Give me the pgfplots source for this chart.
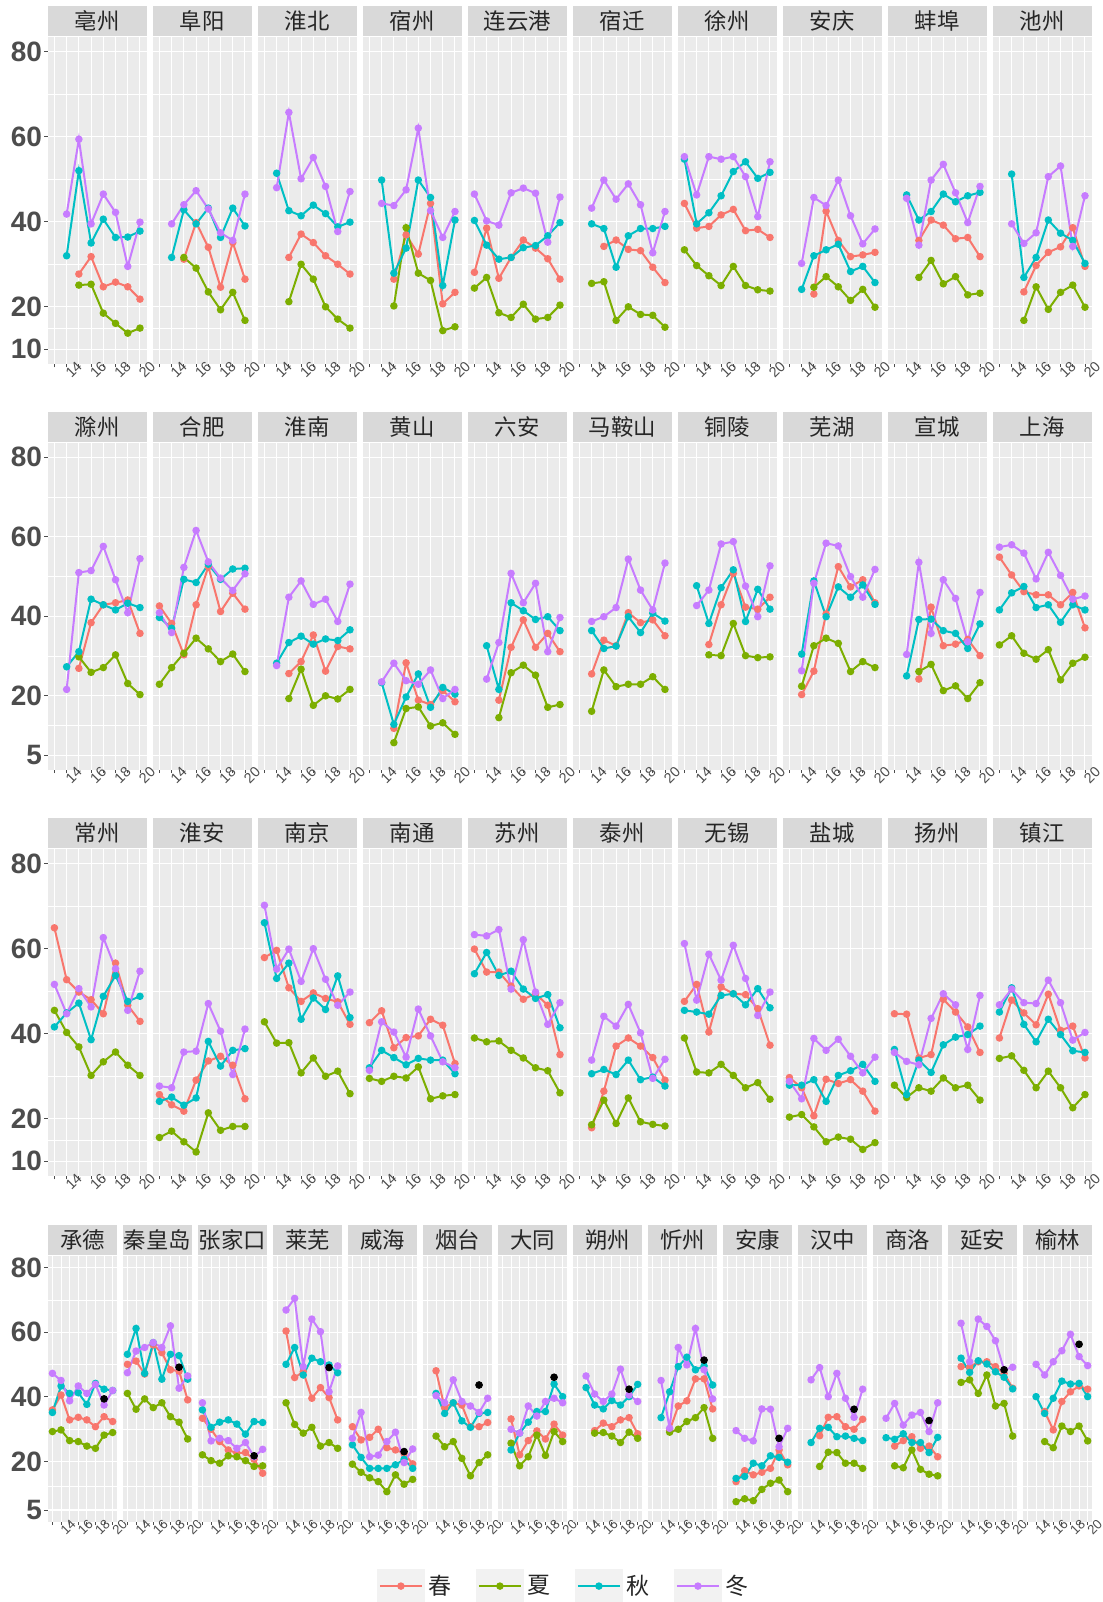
\documentclass[border=0pt]{standalone}
\usepackage{fontspec}
\setmainfont{Liberation Sans}
\newfontfamily\cjk{Noto Sans CJK SC}
\usepackage{pgfplots}
\pgfplotsset{compat=1.18}
\definecolor{cspr}{HTML}{F8766D}
\definecolor{csum}{HTML}{7CAE00}
\definecolor{caut}{HTML}{00BFC4}
\definecolor{cwin}{HTML}{C77CFF}
\definecolor{panelbg}{HTML}{EBEBEB}
\definecolor{stripbg}{HTML}{D9D9D9}
\definecolor{tickgray}{HTML}{4D4D4D}
\definecolor{keybg}{HTML}{F2F2F2}

\pgfplotsset{
  facet/.style={
    scale only axis,
    axis background/.style={fill=panelbg},
    axis line style={draw=none},
    xmin=12.45, xmax=20.55,
    xtick={13,...,20}, xticklabels={,14,,16,,18,,20},
    xtick pos=bottom, ytick pos=left,
    xticklabel style={rotate=45, anchor=center, font=\fontsize{7.2}{7.2}\selectfont,
      text=tickgray, xshift=1.7pt, yshift=-3.3pt},
    xmajorgrids, ymajorgrids, yminorgrids,
    major x grid style={white, line width=0.5pt},
    major y grid style={white, line width=0.6pt},
    minor y grid style={white, line width=0.3pt},
    tick align=outside, major tick length=1.7pt, minor tick length=0pt,
    xtick style={draw=tickgray, line width=0.4pt},
    ytick style={draw=none},
    every axis title/.style={at={(0.5,1)}, anchor=south, yshift=0.3pt, fill=stripbg,
      inner sep=0pt, minimum height=15pt, font=\cjk\fontsize{11.2}{11.2}\selectfont,
      text=black!85},
    /pgf/number format/assume math mode=true,
  },
  rowA/.style={facet, width=49.5pt, height=163.65pt, ymin=6.55, ymax=83.5,
    ytick={10,20,40,60,80}, minor ytick={15,30,50,70}, title style={minimum width=49.5pt}},
  rowB/.style={facet, width=49.5pt, height=163.35pt, ymin=1.4, ymax=83.6,
    ytick={5,20,40,60,80}, minor ytick={12.5,30,50,70}, title style={minimum width=49.5pt}},
  rowD/.style={facet, width=34.85pt, height=133pt, ymin=1.4, ymax=83.7,
    ytick={5,20,40,60,80}, minor ytick={12.5,30,50,70}, title style={minimum width=34.85pt},
    xticklabel style={font=\fontsize{6.6}{6.6}\selectfont}},
  noy/.style={yticklabels={}},
  firsty/.style={ytick style={draw=tickgray, line width=0.5pt},
    yticklabel style={font=\bfseries\fontsize{14}{14}\selectfont, text=tickgray, inner sep=1pt}},
  spr/.style={color=cspr, mark=*, line width=1pt, mark size=1.35pt},
  sum/.style={color=csum, mark=*, line width=1pt, mark size=1.35pt},
  aut/.style={color=caut, mark=*, line width=1pt, mark size=1.35pt},
  win/.style={color=cwin, mark=*, line width=1pt, mark size=1.35pt},
  blk/.style={only marks, mark=*, black, mark size=1.7pt, forget plot},
}

\newcommand{\Sp}[1]{\addplot[spr] coordinates {#1};}
\newcommand{\Su}[1]{\addplot[sum] coordinates {#1};}
\newcommand{\Au}[1]{\addplot[aut] coordinates {#1};}
\newcommand{\Wi}[1]{\addplot[win] coordinates {#1};}
\newcommand{\Bk}[1]{\addplot[blk] coordinates {#1};}
% #1 left (pt), #2 bottom (pt), #3 styles, #4 title, #5 plots
\newcommand{\pnl}[5]{%
  \begin{axis}[at={(#1pt,#2pt)}, anchor=south west, #3, title={#4}]
  #5
  \end{axis}}

\begin{document}
\begin{tikzpicture}
\fill[white] (0,0) rectangle (551.5pt,-801pt);
\useasboundingbox (0,0) rectangle (551.5pt,-801pt);

% ---------------- row 1 ----------------
\pnl{23.85}{-182}{rowA,firsty}{亳州}{
\Sp{(15,27.7)(16,31.8)(17,24.7)(18,25.8)(19,24.7)(20,21.8)}
\Su{(15,25.1)(16,25.3)(17,18.5)(18,16.1)(19,13.8)(20,15.0)}
\Au{(14,32.0)(15,52.0)(16,35.0)(17,40.6)(18,36.3)(19,36.4)(20,37.8)}
\Wi{(14,41.8)(15,59.4)(16,39.5)(17,46.5)(18,42.2)(19,29.5)(20,39.9)}}
\pnl{76.35}{-182}{rowA,noy}{阜阳}{
\Sp{(15,31.2)(16,39.8)(17,34.0)(18,24.6)(19,35.1)(20,26.5)}
\Su{(15,31.6)(16,29.1)(17,23.5)(18,19.3)(19,23.4)(20,16.8)}
\Au{(14,31.6)(15,42.8)(16,39.5)(17,43.2)(18,36.3)(19,43.2)(20,39.0)}
\Wi{(14,39.5)(15,44.0)(16,47.3)(17,43.0)(18,37.4)(19,35.6)(20,46.5)}}
\pnl{128.85}{-182}{rowA,noy}{淮北}{
\Sp{(15,31.6)(16,37.1)(17,35.1)(18,32.0)(19,30.0)(20,27.7)}
\Su{(15,21.2)(16,30.0)(17,26.5)(18,20.0)(19,17.1)(20,15.0)}
\Au{(14,51.4)(15,42.6)(16,41.4)(17,43.9)(18,41.9)(19,38.8)(20,39.9)}
\Wi{(14,48.0)(15,65.7)(16,50.1)(17,55.1)(18,48.3)(19,37.7)(20,47.1)}}
\pnl{181.35}{-182}{rowA,noy}{宿州}{
\Sp{(15,26.5)(16,36.9)(17,32.4)(18,44.3)(19,20.7)(20,23.4)}
\Su{(15,20.2)(16,38.6)(17,27.9)(18,26.2)(19,14.4)(20,15.3)}
\Au{(14,49.8)(15,27.9)(16,33.8)(17,49.8)(18,45.7)(19,25.0)(20,40.4)}
\Wi{(14,44.3)(15,43.8)(16,47.5)(17,62.0)(18,42.6)(19,36.3)(20,42.4)}}
\pnl{233.85}{-182}{rowA,noy}{连云港}{
\Sp{(13,28.1)(14,38.5)(15,26.7)(16,31.6)(17,35.7)(18,33.8)(19,31.3)(20,26.5)}
\Su{(13,24.4)(14,26.9)(15,18.6)(16,17.5)(17,20.6)(18,17.1)(19,17.5)(20,20.4)}
\Au{(13,40.3)(14,34.5)(15,31.2)(16,31.6)(17,33.9)(18,34.4)(19,36.7)(20,39.8)}
\Wi{(13,46.5)(14,40.2)(15,39.2)(16,46.8)(17,47.9)(18,46.7)(19,35.2)(20,45.8)}}
\pnl{286.35}{-182}{rowA,noy}{宿迁}{
\Sp{(15,34.2)(16,35.7)(17,33.5)(18,33.2)(19,29.3)(20,25.7)}
\Su{(14,25.5)(15,25.9)(16,16.8)(17,20.0)(18,18.2)(19,18.0)(20,15.2)}
\Au{(14,39.5)(15,38.4)(16,29.3)(17,36.7)(18,38.4)(19,38.4)(20,38.9)}
\Wi{(14,43.2)(15,49.8)(16,45.3)(17,48.9)(18,44.0)(19,32.7)(20,42.4)}}
\pnl{338.85}{-182}{rowA,noy}{徐州}{
\Sp{(13,44.3)(14,38.5)(15,38.9)(16,41.6)(17,42.9)(18,37.9)(19,38.2)(20,36.3)}
\Su{(13,33.4)(14,29.7)(15,27.3)(16,25.0)(17,29.5)(18,25.0)(19,24.0)(20,23.7)}
\Au{(13,54.7)(14,39.5)(15,42.1)(16,46.1)(17,51.8)(18,54.1)(19,50.2)(20,51.6)}
\Wi{(13,55.3)(14,46.3)(15,55.3)(16,54.7)(17,55.3)(18,50.6)(19,41.2)(20,54.1)}}
\pnl{391.35}{-182}{rowA,noy}{安庆}{
\Sp{(15,23.0)(16,42.5)(17,35.6)(18,31.8)(19,32.2)(20,32.8)}
\Su{(15,24.6)(16,27.1)(17,24.7)(18,21.5)(19,24.1)(20,19.9)}
\Au{(14,24.1)(15,32.0)(16,33.4)(17,34.7)(18,28.3)(19,29.5)(20,25.7)}
\Wi{(14,30.2)(15,45.7)(16,43.8)(17,49.8)(18,41.4)(19,34.8)(20,38.3)}}
\pnl{443.85}{-182}{rowA,noy}{蚌埠}{
\Sp{(15,35.6)(16,40.4)(17,39.2)(18,36.0)(19,36.3)(20,31.8)}
\Su{(15,26.9)(16,30.9)(17,25.4)(18,27.1)(19,22.8)(20,23.2)}
\Au{(14,46.3)(15,40.4)(16,42.4)(17,46.5)(18,44.7)(19,46.1)(20,46.9)}
\Wi{(14,45.5)(15,34.5)(16,49.8)(17,53.5)(18,46.8)(19,39.8)(20,48.3)}}
\pnl{496.35}{-182}{rowA,noy}{池州}{
\Sp{(15,23.5)(16,29.7)(17,32.8)(18,34.1)(19,38.6)(20,29.5)}
\Su{(15,16.8)(16,24.7)(17,19.4)(18,23.4)(19,25.1)(20,19.9)}
\Au{(14,51.2)(15,26.9)(16,31.6)(17,40.4)(18,37.3)(19,35.6)(20,30.2)}
\Wi{(14,39.5)(15,34.9)(16,37.4)(17,50.6)(18,53.1)(19,34.2)(20,46.1)}}

% ---------------- row 2 ----------------
\pnl{23.85}{-384.85}{rowB,firsty}{滁州}{
\Sp{(15,26.9)(16,38.4)(17,42.9)(18,43.4)(19,44.1)(20,35.7)}
\Su{(15,29.8)(16,25.9)(17,27.1)(18,30.3)(19,23.1)(20,20.3)}
\Au{(14,27.3)(15,31.1)(16,44.3)(17,42.9)(18,41.6)(19,43.3)(20,42.2)}
\Wi{(14,21.6)(15,51.0)(16,51.5)(17,57.6)(18,49.2)(19,40.9)(20,54.5)}}
\pnl{76.35}{-384.85}{rowB,noy}{合肥}{
\Sp{(13,42.6)(14,38.2)(15,30.3)(16,42.9)(17,52.5)(18,41.2)(19,45.8)(20,41.8)}
\Su{(13,22.9)(14,27.1)(15,30.7)(16,34.5)(17,31.8)(18,28.6)(19,30.5)(20,26.1)}
\Au{(13,39.7)(14,37.0)(15,49.3)(16,48.5)(17,53.1)(18,49.3)(19,51.9)(20,52.1)}
\Wi{(13,40.9)(14,35.9)(15,52.3)(16,61.6)(17,53.7)(18,49.6)(19,46.5)(20,50.7)}}
\pnl{128.85}{-384.85}{rowB,noy}{淮南}{
\Sp{(15,25.6)(16,28.6)(17,35.3)(18,26.2)(19,32.4)(20,31.8)}
\Su{(15,19.3)(16,26.7)(17,17.6)(18,20.0)(19,19.2)(20,21.6)}
\Au{(14,28.2)(15,33.4)(16,35.0)(17,33.0)(18,34.3)(19,33.9)(20,36.6)}
\Wi{(14,27.6)(15,44.8)(16,48.9)(17,43.0)(18,44.3)(19,38.7)(20,48.1)}}
\pnl{181.35}{-384.85}{rowB,noy}{黄山}{
\Sp{(15,11.8)(16,28.3)(17,18.9)(18,17.8)(19,21.3)(20,18.5)}
\Su{(15,8.2)(16,16.8)(17,17.2)(18,12.4)(19,13.2)(20,10.3)}
\Au{(14,23.3)(15,12.8)(16,19.7)(17,25.5)(18,17.1)(19,22.1)(20,20.4)}
\Wi{(14,23.5)(15,28.2)(16,23.8)(17,22.9)(18,26.5)(19,19.3)(20,21.6)}}
\pnl{233.85}{-384.85}{rowB,noy}{六安}{
\Sp{(15,18.9)(16,32.2)(17,39.1)(18,32.2)(19,35.7)(20,31.1)}
\Su{(15,14.5)(16,25.8)(17,27.7)(18,25.2)(19,17.1)(20,17.8)}
\Au{(14,32.6)(15,21.6)(16,43.4)(17,41.4)(18,39.2)(19,39.9)(20,36.4)}
\Wi{(14,24.2)(15,33.4)(16,50.8)(17,43.4)(18,48.3)(19,31.1)(20,39.7)}}
\pnl{286.35}{-384.85}{rowB,noy}{马鞍山}{
\Sp{(14,25.5)(15,34.0)(16,32.6)(17,40.9)(18,38.4)(19,39.1)(20,35.1)}
\Su{(14,16.1)(15,26.5)(16,22.3)(17,22.9)(18,22.9)(19,24.8)(20,21.6)}
\Au{(14,36.4)(15,31.9)(16,32.5)(17,39.9)(18,35.9)(19,40.8)(20,38.8)}
\Wi{(14,38.7)(15,39.9)(16,42.2)(17,54.4)(18,46.6)(19,41.6)(20,53.4)}}
\pnl{338.85}{-384.85}{rowB,noy}{铜陵}{
\Sp{(15,32.9)(16,42.9)(17,50.8)(18,42.3)(19,41.8)(20,44.8)}
\Su{(15,30.3)(16,30.1)(17,38.2)(18,30.1)(19,29.6)(20,29.8)}
\Au{(14,47.7)(15,38.2)(16,47.2)(17,51.7)(18,38.7)(19,46.8)(20,41.8)}
\Wi{(14,42.7)(15,46.6)(16,58.2)(17,58.8)(18,47.6)(19,39.9)(20,52.7)}}
\pnl{391.35}{-384.85}{rowB,noy}{芜湖}{
\Sp{(14,20.3)(15,26.2)(16,40.6)(17,52.5)(18,47.4)(19,49.2)(20,43.4)}
\Su{(14,22.4)(15,32.6)(16,34.5)(17,33.2)(18,26.1)(19,28.6)(20,27.1)}
\Au{(14,30.5)(15,48.9)(16,39.9)(17,47.4)(18,44.8)(19,47.9)(20,43.0)}
\Wi{(14,26.3)(15,48.3)(16,58.4)(17,57.7)(18,50.0)(19,44.8)(20,51.8)}}
\pnl{443.85}{-384.85}{rowB,noy}{宣城}{
\Sp{(15,24.2)(16,42.3)(17,32.6)(18,33.0)(19,34.2)(20,30.1)}
\Su{(15,26.1)(16,27.9)(17,21.3)(18,22.5)(19,19.3)(20,23.3)}
\Au{(14,25.0)(15,39.2)(16,39.3)(17,36.4)(18,35.7)(19,31.9)(20,38.1)}
\Wi{(14,30.4)(15,53.6)(16,35.7)(17,49.2)(18,44.5)(19,33.6)(20,46.0)}}
\pnl{496.35}{-384.85}{rowB,noy}{上海}{
\Sp{(13,54.9)(14,50.4)(15,46.2)(16,45.4)(17,45.4)(18,42.9)(19,46.0)(20,37.1)}
\Su{(13,32.8)(14,35.1)(15,30.7)(16,29.2)(17,31.6)(18,24.0)(19,28.2)(20,29.7)}
\Au{(13,41.6)(14,45.9)(15,47.5)(16,42.2)(17,42.9)(18,38.5)(19,42.9)(20,41.6)}
\Wi{(13,57.4)(14,58.0)(15,55.9)(16,49.4)(17,56.1)(18,50.3)(19,44.3)(20,45.1)}}

% ---------------- row 3 ----------------
\pnl{23.85}{-588}{rowA,firsty}{常州}{
\Sp{(13,64.9)(14,52.7)(15,49.8)(16,48.0)(17,44.7)(18,56.6)(19,46.7)(20,42.9)}
\Su{(13,45.5)(14,40.3)(15,36.9)(16,30.2)(17,33.4)(18,35.7)(19,32.6)(20,30.2)}
\Au{(13,41.6)(14,44.9)(15,47.2)(16,38.6)(17,48.8)(18,53.7)(19,47.6)(20,48.8)}
\Wi{(13,51.6)(14,44.7)(15,50.6)(16,46.3)(17,62.6)(18,55.3)(19,45.5)(20,54.7)}}
\pnl{76.35}{-588}{rowA,noy}{淮安}{
\Sp{(13,25.7)(14,23.3)(15,21.8)(16,29.1)(17,33.6)(18,34.7)(19,32.6)(20,24.7)}
\Su{(13,15.6)(14,17.1)(15,14.6)(16,12.2)(17,21.4)(18,17.3)(19,18.2)(20,18.2)}
\Au{(13,24.1)(14,25.1)(15,23.2)(16,24.9)(17,38.2)(18,32.4)(19,36.1)(20,36.5)}
\Wi{(13,27.7)(14,27.3)(15,35.7)(16,35.9)(17,47.1)(18,40.6)(19,30.4)(20,41.1)}}
\pnl{128.85}{-588}{rowA,noy}{南京}{
\Sp{(13,57.9)(14,59.6)(15,50.8)(16,47.6)(17,49.6)(18,48.3)(19,47.5)(20,42.2)}
\Su{(13,42.8)(14,37.8)(15,37.9)(16,30.8)(17,34.3)(18,30.0)(19,31.2)(20,25.9)}
\Au{(13,66.1)(14,53.0)(15,56.6)(16,43.4)(17,48.4)(18,45.7)(19,53.6)(20,43.8)}
\Wi{(13,70.2)(14,55.2)(15,59.9)(16,52.3)(17,60.0)(18,52.8)(19,46.7)(20,49.8)}}
\pnl{181.35}{-588}{rowA,noy}{南通}{
\Sp{(13,42.6)(14,45.4)(15,36.7)(16,39.1)(17,39.5)(18,43.4)(19,42.0)(20,33.0)}
\Su{(13,29.5)(14,28.8)(15,30.0)(16,29.6)(17,32.2)(18,24.7)(19,25.4)(20,25.7)}
\Au{(13,32.0)(14,36.1)(15,34.4)(16,32.7)(17,34.2)(18,33.8)(19,33.8)(20,30.6)}
\Wi{(13,31.4)(14,42.8)(15,40.4)(16,34.5)(17,45.8)(18,39.5)(19,33.4)(20,32.0)}}
\pnl{233.85}{-588}{rowA,noy}{苏州}{
\Sp{(13,59.9)(14,54.5)(15,54.5)(16,51.2)(17,48.1)(18,49.4)(19,46.7)(20,35.1)}
\Su{(13,39.0)(14,38.1)(15,38.3)(16,36.1)(17,34.3)(18,32.0)(19,31.3)(20,26.1)}
\Au{(13,54.1)(14,59.1)(15,53.7)(16,54.7)(17,50.5)(18,48.3)(19,49.2)(20,41.4)}
\Wi{(13,63.3)(14,63.0)(15,64.5)(16,50.5)(17,62.1)(18,49.8)(19,42.2)(20,47.3)}}
\pnl{286.35}{-588}{rowA,noy}{泰州}{
\Sp{(14,17.9)(15,26.5)(16,37.1)(17,39.0)(18,37.1)(19,34.4)(20,29.1)}
\Su{(14,18.6)(15,24.4)(16,18.9)(17,24.9)(18,19.3)(19,18.7)(20,18.3)}
\Au{(14,30.6)(15,31.6)(16,30.4)(17,33.8)(18,29.2)(19,29.8)(20,27.7)}
\Wi{(14,33.8)(15,44.1)(16,41.8)(17,46.9)(18,40.2)(19,29.5)(20,34.0)}}
\pnl{338.85}{-588}{rowA,noy}{无锡}{
\Sp{(13,47.6)(14,51.6)(15,40.4)(16,51.0)(17,49.4)(18,49.2)(19,45.9)(20,37.3)}
\Su{(13,39.0)(14,31.0)(15,30.8)(16,32.8)(17,30.2)(18,27.3)(19,28.5)(20,24.6)}
\Au{(13,45.5)(14,45.1)(15,44.6)(16,49.0)(17,49.4)(18,46.8)(19,50.6)(20,46.1)}
\Wi{(13,61.2)(14,47.9)(15,58.7)(16,52.6)(17,60.8)(18,53.0)(19,44.3)(20,49.8)}}
\pnl{391.35}{-588}{rowA,noy}{盐城}{
\Sp{(13,29.7)(14,27.3)(15,20.7)(16,29.3)(17,28.3)(18,29.2)(19,26.5)(20,21.8)}
\Su{(13,20.4)(14,21.0)(15,18.1)(16,14.6)(17,15.7)(18,15.2)(19,12.8)(20,14.4)}
\Au{(13,27.9)(14,27.9)(15,29.2)(16,24.1)(17,30.2)(18,31.3)(19,32.8)(20,28.8)}
\Wi{(13,28.8)(14,24.7)(15,38.9)(16,36.1)(17,38.7)(18,34.7)(19,30.8)(20,34.5)}}
\pnl{443.85}{-588}{rowA,noy}{扬州}{
\Sp{(13,44.7)(14,44.6)(15,34.3)(16,35.1)(17,48.1)(18,45.1)(19,41.6)(20,35.6)}
\Su{(13,27.9)(14,25.0)(15,27.3)(16,26.5)(17,29.6)(18,27.3)(19,27.9)(20,24.4)}
\Au{(13,36.3)(14,25.7)(15,33.8)(16,30.9)(17,37.4)(18,39.2)(19,39.8)(20,41.8)}
\Wi{(13,35.6)(14,33.5)(15,32.7)(16,43.6)(17,49.4)(18,46.8)(19,36.3)(20,49.0)}}
\pnl{496.35}{-588}{rowA,noy}{镇江}{
\Sp{(13,39.0)(14,47.9)(15,44.9)(16,42.1)(17,49.3)(18,40.8)(19,41.8)(20,34.3)}
\Su{(13,34.2)(14,34.8)(15,31.4)(16,27.3)(17,31.2)(18,27.3)(19,22.6)(20,25.7)}
\Au{(13,45.1)(14,50.8)(15,42.2)(16,38.1)(17,43.4)(18,39.8)(19,36.0)(20,35.6)}
\Wi{(13,46.8)(14,50.5)(15,47.3)(16,47.1)(17,52.6)(18,47.3)(19,38.5)(20,40.3)}}

% ---------------- row 4 ----------------
\pnl{23.85}{-760.85}{rowD,firsty,
  legend entries={春,夏,秋,冬},
  legend style={at={(7.42,-0.242)}, anchor=center, legend columns=4, draw=none, fill=white,
    font=\cjk\fontsize{11.5}{11.5}\selectfont, text=black!85,
    /tikz/every even column/.append style={column sep=10pt}},
  legend image code/.code={
    \fill[keybg] (0pt,-8pt) rectangle (23pt,8pt);
    \draw[mark repeat=2,mark phase=2] plot coordinates {(1pt,0pt) (11.5pt,0pt) (22pt,0pt)};}
  }{承德}{
\Sp{(13,36.0)(14,40.6)(15,32.9)(16,33.7)(17,32.9)(18,30.8)(19,33.9)(20,32.4)}
\Su{(13,29.3)(14,29.8)(15,26.5)(16,26.2)(17,24.8)(18,24.1)(19,28.2)(20,29.0)}
\Au{(13,35.2)(14,43.4)(15,41.1)(16,41.3)(17,37.7)(18,44.2)(19,42.4)(20,42.0)}
\Wi{(13,47.3)(14,45.1)(15,38.8)(16,43.4)(17,41.1)(18,43.9)(19,37.5)(20,42.0)}
\Bk{(19,39.4)}}
\pnl{61.35}{-760.85}{rowD,noy}{秦皇岛}{
\Sp{(13,50.1)(14,51.1)(15,47.1)(16,56.1)(17,53.7)(18,48.4)(19,48.0)(20,39.1)}
\Su{(13,41.1)(14,36.2)(15,39.4)(16,36.7)(17,38.2)(18,33.9)(19,32.2)(20,27.0)}
\Au{(13,53.2)(14,61.2)(15,47.3)(16,56.8)(17,45.5)(18,53.2)(19,52.8)(20,45.5)}
\Wi{(13,47.5)(14,54.2)(15,55.3)(16,56.8)(17,55.3)(18,62.0)(19,42.7)(20,46.5)}
\Bk{(19,49.2)}}
\pnl{98.85}{-760.85}{rowD,noy}{张家口}{
\Sp{(13,33.4)(14,30.0)(15,26.2)(16,23.6)(17,22.6)(18,22.8)(19,20.7)(20,16.4)}
\Su{(13,22.1)(14,20.3)(15,19.5)(16,21.8)(17,21.5)(18,20.3)(19,18.5)(20,18.7)}
\Au{(13,36.0)(14,30.6)(15,32.2)(16,32.9)(17,31.6)(18,28.5)(19,32.4)(20,32.1)}
\Wi{(13,38.2)(14,26.4)(15,27.2)(16,26.5)(17,24.1)(18,25.9)(19,21.5)(20,23.8)}
\Bk{(19,21.8)}}
\pnl{136.35}{-760.85}{rowD,noy}{莱芜}{
\Sp{(14,60.4)(15,46.0)(16,47.8)(17,39.6)(18,42.9)(19,39.8)(20,32.9)}
\Su{(14,38.2)(15,31.5)(16,28.8)(17,30.6)(18,24.8)(19,25.9)(20,24.1)}
\Au{(14,50.1)(15,55.3)(16,46.8)(17,52.0)(18,50.9)(19,49.9)(20,47.5)}
\Wi{(14,66.9)(15,70.5)(16,49.4)(17,64.1)(18,60.2)(19,41.6)(20,49.6)}
\Bk{(19,49.1)}}
\pnl{173.85}{-760.85}{rowD,noy}{威海}{
\Sp{(13,30.8)(14,26.7)(15,27.5)(16,30.0)(17,24.3)(18,23.6)(19,22.6)(20,19.3)}
\Su{(13,19.2)(14,16.7)(15,15.0)(16,13.8)(17,10.7)(18,15.9)(19,13.0)(20,14.5)}
\Au{(13,25.2)(14,21.3)(15,17.9)(16,17.9)(17,17.9)(18,19.0)(19,20.7)(20,17.9)}
\Wi{(13,27.2)(14,35.2)(15,21.5)(16,22.0)(17,26.2)(18,29.1)(19,19.7)(20,23.9)}
\Bk{(19,23.1)}}
\pnl{211.35}{-760.85}{rowD,noy}{烟台}{
\Sp{(14,48.1)(15,36.7)(16,38.2)(17,37.5)(18,30.8)(19,30.8)(20,32.1)}
\Su{(14,27.9)(15,24.6)(16,26.2)(17,21.0)(18,15.6)(19,19.7)(20,22.1)}
\Au{(14,41.1)(15,34.9)(16,38.2)(17,32.6)(18,30.6)(19,34.9)(20,35.2)}
\Wi{(14,40.4)(15,38.2)(16,45.3)(17,38.6)(18,37.2)(19,35.2)(20,39.6)}
\Bk{(19,43.7)}}
\pnl{248.85}{-760.85}{rowD,noy}{大同}{
\Sp{(14,33.2)(15,22.1)(16,26.5)(17,29.5)(18,27.0)(19,31.6)(20,28.2)}
\Su{(14,25.7)(15,18.7)(16,21.5)(17,28.2)(18,21.9)(19,29.3)(20,26.2)}
\Au{(14,23.6)(15,28.8)(16,32.2)(17,35.5)(18,35.5)(19,44.0)(20,40.1)}
\Wi{(14,30.0)(15,28.8)(16,37.2)(17,34.1)(18,38.6)(19,39.6)(20,38.2)}
\Bk{(19,46.1)}}
\pnl{286.35}{-760.85}{rowD,noy}{朔州}{
\Sp{(15,29.6)(16,31.9)(17,30.8)(18,32.9)(19,33.6)(20,28.6)}
\Su{(15,28.8)(16,29.0)(17,27.9)(18,25.9)(19,29.1)(20,27.2)}
\Au{(14,42.9)(15,37.5)(16,36.3)(17,38.9)(18,37.5)(19,40.1)(20,43.9)}
\Wi{(14,46.5)(15,40.9)(16,38.6)(17,40.9)(18,48.6)(19,40.6)(20,38.6)}
\Bk{(19,42.4)}}
\pnl{323.85}{-760.85}{rowD,noy}{忻州}{
\Sp{(15,29.6)(16,37.2)(17,38.8)(18,45.6)(19,45.6)(20,36.3)}
\Su{(15,29.1)(16,30.0)(17,32.4)(18,33.6)(19,36.7)(20,27.2)}
\Au{(14,33.6)(15,41.6)(16,49.4)(17,52.3)(18,48.4)(19,49.6)(20,43.7)}
\Wi{(14,45.1)(15,30.3)(16,55.3)(17,49.9)(18,61.2)(19,48.4)(20,39.4)}
\Bk{(19,51.4)}}
\pnl{361.35}{-760.85}{rowD,noy}{安康}{
\Sp{(14,13.8)(15,17.2)(16,15.9)(17,16.7)(18,17.9)(19,23.6)(20,19.0)}
\Su{(14,7.6)(15,8.5)(16,7.9)(17,11.4)(18,13.3)(19,14.3)(20,10.7)}
\Au{(14,14.8)(15,15.4)(16,19.5)(17,18.7)(18,21.8)(19,21.3)(20,19.8)}
\Wi{(14,29.6)(15,27.2)(16,26.4)(17,36.3)(18,36.2)(19,24.6)(20,30.3)}
\Bk{(19,27.2)}}
\pnl{398.85}{-760.85}{rowD,noy}{汉中}{
\Sp{(15,28.0)(16,33.7)(17,33.9)(18,30.8)(19,30.0)(20,33.1)}
\Su{(15,18.5)(16,22.9)(17,22.8)(18,19.5)(19,19.5)(20,17.9)}
\Au{(14,25.9)(15,30.3)(16,30.6)(17,27.7)(18,27.9)(19,27.2)(20,26.5)}
\Wi{(14,45.3)(15,49.1)(16,40.1)(17,47.3)(18,39.6)(19,33.7)(20,42.4)}
\Bk{(19,36.2)}}
\pnl{436.35}{-760.85}{rowD,noy}{商洛}{
\Sp{(15,24.8)(16,26.5)(17,27.7)(18,24.1)(19,24.8)(20,21.5)}
\Su{(15,18.7)(16,18.1)(17,23.6)(18,17.6)(19,16.1)(20,15.6)}
\Au{(14,27.4)(15,26.9)(16,28.6)(17,25.9)(18,25.9)(19,22.8)(20,27.5)}
\Wi{(14,33.4)(15,38.0)(16,31.3)(17,34.4)(18,35.2)(19,29.3)(20,38.2)}
\Bk{(19,32.7)}}
\pnl{473.85}{-760.85}{rowD,noy}{延安}{
\Sp{(14,49.4)(15,49.2)(16,50.9)(17,50.9)(18,49.4)(19,47.3)(20,42.7)}
\Su{(14,44.5)(15,45.3)(16,41.1)(17,46.8)(18,37.2)(19,38.0)(20,27.9)}
\Au{(14,52.0)(15,47.6)(16,51.2)(17,50.2)(18,47.8)(19,46.1)(20,42.5)}
\Wi{(14,62.8)(15,50.9)(16,64.1)(17,61.8)(18,57.4)(19,48.4)(20,49.2)}
\Bk{(19,48.4)}}
\pnl{511.35}{-760.85}{rowD,noy}{榆林}{
\Sp{(15,35.5)(16,29.8)(17,38.6)(18,41.6)(19,43.4)(20,42.4)}
\Su{(15,26.2)(16,24.3)(17,31.0)(18,29.3)(19,31.0)(20,26.4)}
\Au{(14,40.1)(15,34.9)(16,39.6)(17,44.9)(18,44.0)(19,44.2)(20,40.1)}
\Wi{(14,50.1)(15,46.8)(16,50.9)(17,54.3)(18,59.4)(19,52.5)(20,49.7)}
\Bk{(19,56.3)}}
\end{tikzpicture}
\end{document}
